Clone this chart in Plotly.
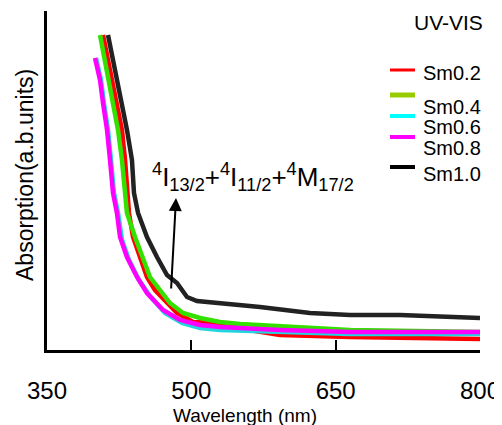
import plotly.graph_objects as go

# Wavelength (nm) and absorption (arb. units)
sm02_x = [408.2, 415.5, 422.7, 427.9, 431.1, 433.1, 435.2, 439.4, 446.7, 453.9, 462.2, 474.7, 485.1, 501.7, 529.8, 560.0, 592.1, 664.9, 800.0]
sm02_y = [3.15, 2.80, 2.47, 2.20, 1.90, 1.57, 1.37, 1.13, 0.93, 0.73, 0.60, 0.47, 0.37, 0.28, 0.27, 0.20, 0.15, 0.13, 0.11]

sm04_x = [405.1, 412.4, 418.6, 423.8, 427.9, 431.1, 433.1, 441.5, 448.7, 457.0, 467.4, 477.8, 491.3, 509.0, 529.8, 550.6, 664.9, 800.0]
sm04_y = [3.15, 2.80, 2.47, 2.20, 1.90, 1.57, 1.37, 1.13, 0.93, 0.73, 0.60, 0.47, 0.37, 0.32, 0.28, 0.26, 0.20, 0.18]

sm06_x = [400.9, 406.1, 409.2, 413.4, 416.5, 419.6, 423.8, 428.0, 435.2, 445.6, 457.0, 472.6, 490.3, 509.0, 529.8, 592.1, 664.9, 800.0]
sm06_y = [2.92, 2.70, 2.47, 2.20, 1.90, 1.57, 1.37, 1.10, 0.90, 0.70, 0.54, 0.37, 0.27, 0.22, 0.20, 0.18, 0.16, 0.16]

sm08_x = [399.9, 405.1, 408.2, 412.4, 415.5, 418.6, 422.7, 425.9, 433.1, 443.5, 453.9, 470.6, 488.2, 509.0, 529.8, 592.1, 664.9, 800.0]
sm08_y = [2.92, 2.70, 2.47, 2.20, 1.90, 1.57, 1.37, 1.13, 0.93, 0.73, 0.57, 0.40, 0.30, 0.25, 0.23, 0.20, 0.18, 0.18]

sm10_x = [413.4, 420.7, 427.9, 433.1, 438.3, 440.4, 444.6, 453.9, 464.3, 474.7, 485.1, 495.5, 505.9, 529.8, 571.4, 623.3, 664.9, 716.9, 800.0]
sm10_y = [3.15, 2.80, 2.47, 2.20, 1.90, 1.57, 1.37, 1.13, 0.93, 0.75, 0.67, 0.53, 0.49, 0.47, 0.43, 0.37, 0.35, 0.35, 0.32]

series_names = ["Sm0.2", "Sm0.4", "Sm0.6", "Sm0.8", "Sm1.0"]
series_colors = ["#ff0000", "#33e000", "#22d4dd", "#ff00ff", "#222222"]
legend_colors = ["#ff0000", "#99cc00", "#00ffff", "#ff00ff", "#000000"]
xs = [sm02_x, sm04_x, sm06_x, sm08_x, sm10_x]
ys = [sm02_y, sm04_y, sm06_y, sm08_y, sm10_y]

tick_vals = [350, 500, 650, 800]

FONT = "Liberation Sans, Arial, sans-serif"

# The page body adds an 8px offset; plot area in page pixels: x 47..480, y 11..350
L, R, T, B = 47, 480, 11, 350
OFF = 8
PW, PH = R - L, B - T


def px(x):
    return (x - L) / PW


def py(y):
    return (B - y) / PH


fig = go.Figure()
for name, color, x, y in zip(series_names, series_colors, xs, ys):
    fig.add_trace(go.Scatter(x=x, y=y, mode="lines", name=name,
                             line=dict(color=color, width=4.5), showlegend=False))

fig.update_layout(
    width=502, height=425,
    margin=dict(l=L - OFF, r=502 - (R - OFF), t=T - OFF, b=425 - (B - OFF)),
    paper_bgcolor="white", plot_bgcolor="white",
    font=dict(family=FONT, color="black"),
    showlegend=False,
    xaxis=dict(range=[350, 800], tickvals=tick_vals, ticks="inside", ticklen=10,
               tickwidth=2, tickcolor="black", showline=True, linewidth=2.5,
               linecolor="black", showgrid=False, zeroline=False,
               tickfont=dict(size=24, family=FONT), ticklabelstandoff=17),
    yaxis=dict(range=[0, 3.39], showticklabels=False, ticks="", showline=True,
               linewidth=2.5, linecolor="black", showgrid=False, zeroline=False),
)

# Legend drawn by hand to follow the reference's uneven spacing
legend_line_y = [70, 95, 116, 137, 167]
legend_text_y = [73, 107, 127, 148, 174]
legend_line_w = [3, 5, 4, 4, 4]
for name, color, ly, ty, lw in zip(series_names, legend_colors, legend_line_y, legend_text_y, legend_line_w):
    fig.add_shape(type="line", xref="paper", yref="paper",
                  x0=px(390), x1=px(415), y0=py(ly), y1=py(ly),
                  line=dict(color=color, width=lw))
    fig.add_annotation(text=name, xref="paper", yref="paper", x=px(421), y=py(ty),
                       showarrow=False, xanchor="left", yanchor="middle",
                       font=dict(size=20, family=FONT))

fig.add_annotation(text="Wavelength (nm)", xref="paper", yref="paper",
                   x=px(245), y=py(415), showarrow=False,
                   font=dict(size=19, family=FONT), xanchor="center", yanchor="middle")
fig.add_annotation(text="Absorption(a.b.units)", xref="paper", yref="paper",
                   x=px(25), y=py(175), showarrow=False, textangle=-90,
                   font=dict(size=23, family=FONT), xanchor="center", yanchor="middle")
fig.add_annotation(text="UV-VIS", xref="paper", yref="paper",
                   x=px(448), y=py(22), showarrow=False,
                   font=dict(size=21, family=FONT), xanchor="center", yanchor="middle")
fig.add_annotation(text="<sup>4</sup>I<sub>13/2</sub>+<sup>4</sup>I<sub>11/2</sub>+<sup>4</sup>M<sub>17/2</sub>",
                   xref="paper", yref="paper", x=px(253), y=py(177),
                   showarrow=False, font=dict(size=26, family=FONT),
                   xanchor="center", yanchor="middle")
fig.add_annotation(x=484.1, y=1.52, ax=478.9, ay=0.60, xref="x", yref="y",
                   axref="x", ayref="y", text="", showarrow=True,
                   arrowhead=2, arrowsize=1.3, arrowwidth=2, arrowcolor="black")

fig.write_html("out.html")
